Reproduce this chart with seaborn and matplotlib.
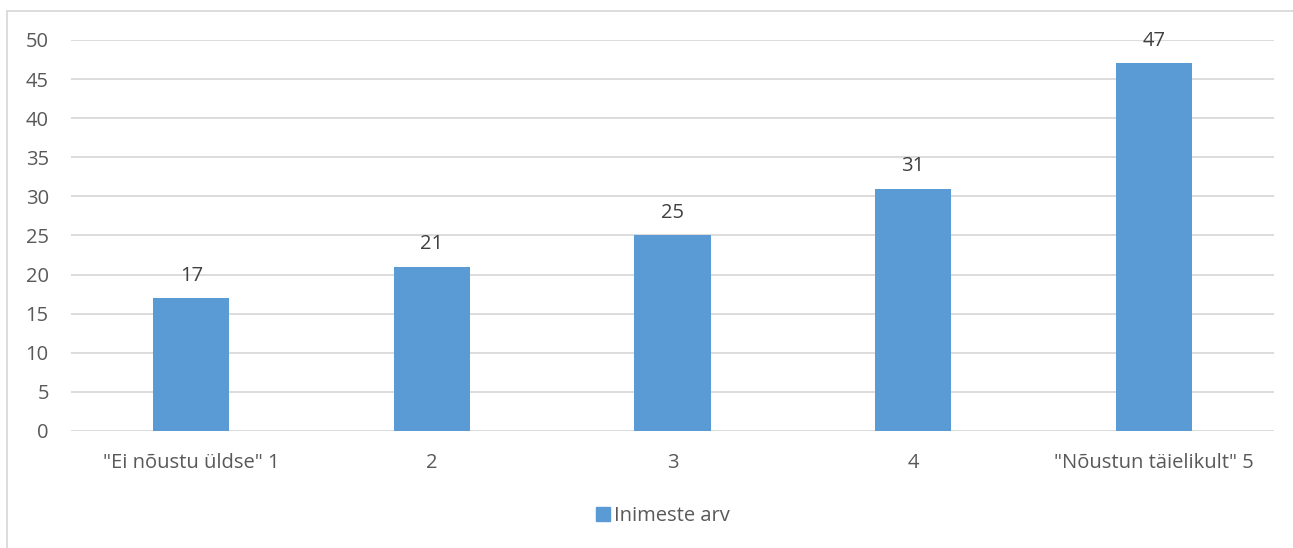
import matplotlib
matplotlib.use("Agg")
import matplotlib.pyplot as plt
import seaborn as sns
import pandas as pd
from matplotlib.patches import Rectangle

categories = ['"Ei nõustu üldse" 1', "2", "3", "4", '"Nõustun täielikult" 5']
values = [17, 21, 25, 31, 47]
series_name = "Inimeste arv"
y_ticks = [0, 5, 10, 15, 20, 25, 30, 35, 40, 45, 50]

BAR = "#5B9BD5"
TEXT = "#595959"
GRID = "#D9D9D9"
FS = 14.5

sns.set_theme(style="white")
plt.rcParams["font.family"] = ["Open Sans", "DejaVu Sans"]

df = pd.DataFrame({"kategooria": categories, "arv": values})

W, H = 1293, 548
fig = plt.figure(figsize=(W / 100, H / 100), dpi=100)
ax = fig.add_axes([71 / W, (H - 431) / H, (1274 - 71) / W, (431 - 40) / H])

sns.barplot(data=df, x="kategooria", y="arv", color=BAR, width=0.316,
            saturation=1, ax=ax, zorder=3, edgecolor="none")

ax.set_ylim(0, 50)
ax.set_xlim(-0.5, len(categories) - 0.5)
ax.set_yticks(y_ticks)
ax.yaxis.grid(True, color=GRID, linewidth=1.3, zorder=0)
ax.set_axisbelow(True)
for s in ax.spines.values():
    s.set_visible(False)
ax.tick_params(axis="both", length=0, colors=TEXT, labelsize=FS)
ax.tick_params(axis="y", pad=16)
ax.tick_params(axis="x", pad=16)
for lbl in ax.get_yticklabels():
    lbl.set_horizontalalignment("right")
ax.set_xlabel("")
ax.set_ylabel("")

for cont in ax.containers:
    ax.bar_label(cont, labels=[str(v) for v in values], padding=9,
                 color="#404040", fontsize=FS)

# chart frame
fig.add_artist(Rectangle((7 / W, -0.02), 1.05, (H - 11) / H + 0.02,
                         transform=fig.transFigure, fill=False,
                         edgecolor=GRID, linewidth=1.3))

handle = Rectangle((0, 0), 1, 1, color=BAR)
fig.legend([handle], [series_name], loc="center", bbox_to_anchor=(663 / W, (H - 516) / H),
           frameon=False, fontsize=FS, labelcolor=TEXT, handlelength=0.7,
           handleheight=0.7, handletextpad=0.2)

fig.savefig("out.png", dpi=100, facecolor="white")
